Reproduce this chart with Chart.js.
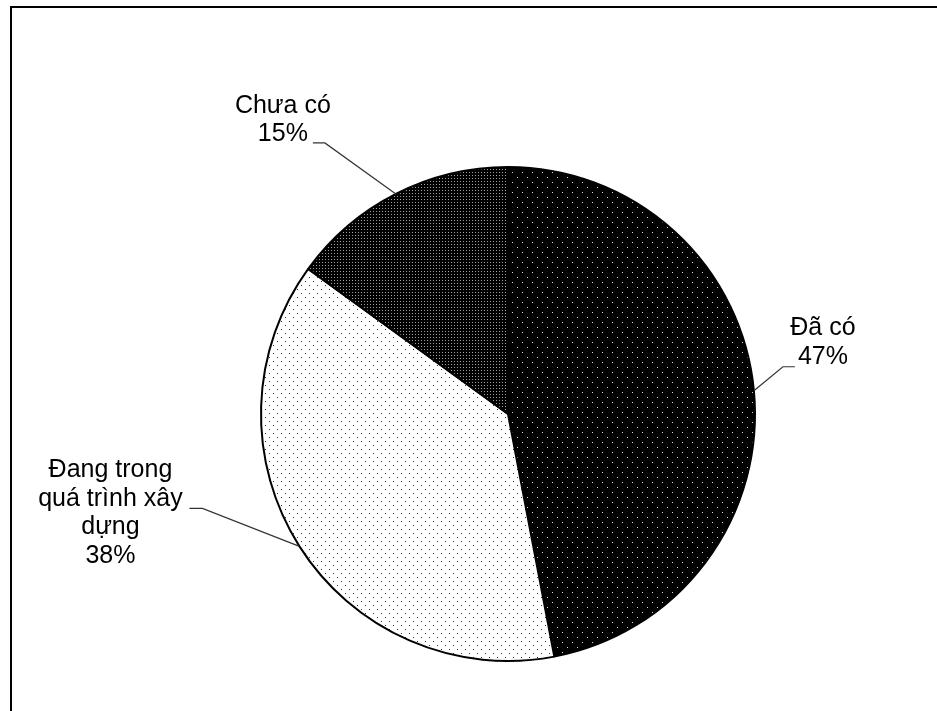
<!DOCTYPE html>
<html>
<head>
<meta charset="utf-8">
<script src="https://cdn.jsdelivr.net/npm/chart.js@4/dist/chart.umd.min.js"></script>
<style>
  html, body { margin: 0; padding: 0; background: #fff; overflow: hidden; }
  #wrap { position: relative; width: 937px; height: 711px; }
  #frame { position: absolute; left: 10px; top: 6px; width: 1000px; height: 800px; border: 2px solid #000; box-sizing: border-box; }
  canvas { position: absolute; left: 0; top: 0; }
</style>
</head>
<body>
<div id="wrap">
  <div id="frame"></div>
  <canvas id="c" width="937" height="711"></canvas>
</div>
<script>
// ---- data ----
const categories = ["Đã có", "Đang trong quá trình xây dựng", "Chưa có"];
const values = [47, 38, 15];
const labelLines = [["Đã có"], ["Đang trong", "quá trình xây", "dựng"], ["Chưa có"]];

// ---- patterns ----
function makePattern(w, h, bg, fg, dots) {
  const c = document.createElement('canvas');
  c.width = w; c.height = h;
  const x = c.getContext('2d');
  x.fillStyle = bg; x.fillRect(0, 0, w, h);
  x.fillStyle = fg;
  dots.forEach(d => x.fillRect(d[0], d[1], 1, 1));
  return x.createPattern(c, 'repeat');
}
const ctx = document.getElementById('c').getContext('2d');
const patterns = [
  makePattern(10, 10, '#000', '#d8d8d8', [[2, 2], [7, 7]]),
  makePattern(8, 8, '#fff', '#333', [[1, 1], [5, 5]]),
  makePattern(3, 3, '#000', '#a0a0a0', [[1, 1]])
];

// label layout (offsets relative to the slice's outer mid-point)
const labelLayout = [
  { elbow: [29, -24], tail: 12, text: [69, -48] },
  { elbow: [-97, -38], tail: -13, text: [-189, -33] },
  { elbow: [-71, -51], tail: -12, text: [-113, -74] }
];

const labelPlugin = {
  id: 'pieLabels',
  afterDraw(chart) {
    const c = chart.ctx;
    const meta = chart.getDatasetMeta(0);
    const total = values.reduce((a, b) => a + b, 0);
    meta.data.forEach((arc, i) => {
      const p = arc.getProps(['x', 'y', 'startAngle', 'endAngle', 'outerRadius'], true);
      const mid = (p.startAngle + p.endAngle) / 2;
      const ax = p.x + Math.cos(mid) * p.outerRadius;
      const ay = p.y + Math.sin(mid) * p.outerRadius;
      const L = labelLayout[i];
      const ex = ax + L.elbow[0], ey = ay + L.elbow[1];
      c.save();
      c.strokeStyle = '#333';
      c.lineWidth = 1.2;
      c.beginPath();
      c.moveTo(ax, ay);
      c.lineTo(ex, ey);
      c.lineTo(ex + L.tail, ey);
      c.stroke();
      const lines = labelLines[i].concat([Math.round(values[i] / total * 100) + '%']);
      const lh = 28.5;
      const tx = ax + L.text[0], ty = ay + L.text[1];
      c.fillStyle = '#000';
      c.font = '25px "Liberation Sans", Arial, sans-serif';
      c.textAlign = 'center';
      c.textBaseline = 'middle';
      lines.forEach((t, k) => {
        c.fillText(t, tx, ty + (k - (lines.length - 1) / 2) * lh);
      });
      c.restore();
    });
  }
};

new Chart(ctx, {
  type: 'pie',
  data: {
    labels: categories,
    datasets: [{
      data: values,
      backgroundColor: patterns,
      borderColor: '#000',
      borderWidth: 2,
      radius: 247
    }]
  },
  options: {
    responsive: false,
    animation: false,
    events: [],
    layout: { padding: { left: 79, right: 0, top: 117, bottom: 0 } },
    plugins: { legend: { display: false }, tooltip: { enabled: false } }
  },
  plugins: [labelPlugin]
});
</script>
</body>
</html>
